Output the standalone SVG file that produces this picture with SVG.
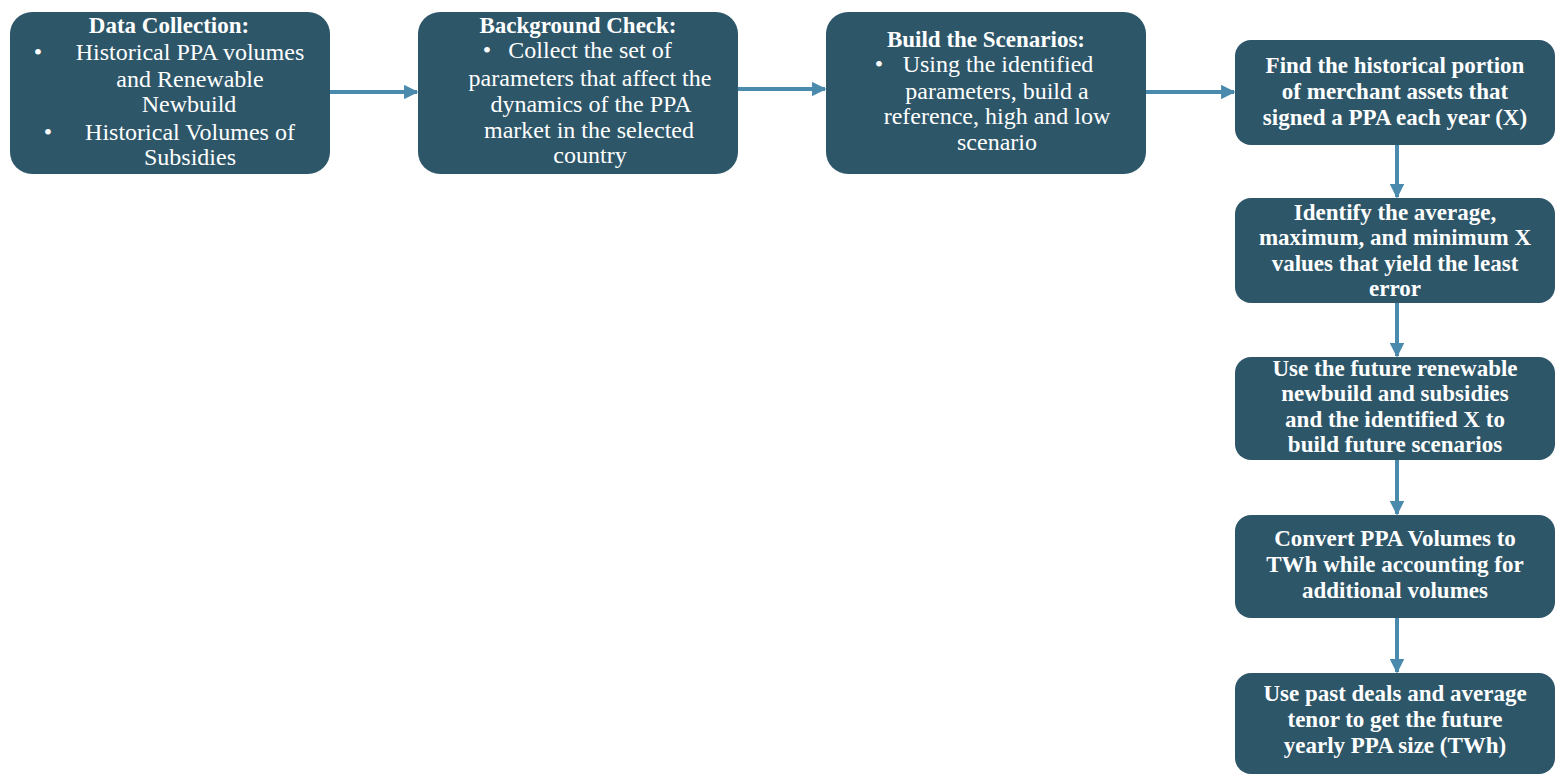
<svg xmlns="http://www.w3.org/2000/svg" width="1557" height="774" viewBox="0 0 1557 774">
<style>
.box{fill:#2d5669;}
.t{font-family:"Liberation Serif","DejaVu Serif",serif;fill:#ffffff;text-anchor:middle;font-size:24px;}
.b{font-weight:bold;font-size:23px;}
.r{font-family:"Liberation Serif","DejaVu Serif",serif;fill:#ffffff;text-anchor:middle;font-size:23px;font-weight:bold;}
.c{stroke:#4a8aac;stroke-width:4;fill:none;}
</style>
<defs>
<marker id="ah" viewBox="0 0 10 10" refX="9" refY="5" markerWidth="3.6" markerHeight="3.6" orient="auto" markerUnits="strokeWidth">
<path d="M0,0 L10,5 L0,10 Z" fill="#4a8aac"/>
</marker>
</defs>
<g id="connectors">
<line class="c" x1="330" y1="92" x2="417" y2="92" marker-end="url(#ah)"/>
<line class="c" x1="738" y1="89" x2="825" y2="89" marker-end="url(#ah)"/>
<line class="c" x1="1146" y1="92" x2="1234" y2="92" marker-end="url(#ah)"/>
<line class="c" x1="1397" y1="145" x2="1397" y2="197" marker-end="url(#ah)"/>
<line class="c" x1="1397" y1="303" x2="1397" y2="356" marker-end="url(#ah)"/>
<line class="c" x1="1397" y1="460" x2="1397" y2="514" marker-end="url(#ah)"/>
<line class="c" x1="1397" y1="618" x2="1397" y2="672" marker-end="url(#ah)"/>
</g>
<g id="n1">
<rect class="box" x="10" y="12" width="320" height="162" rx="22"/>
<text class="t b" x="169" y="33">Data Collection:</text>
<text class="t" x="38" y="60">•</text>
<text class="t" x="190" y="60">Historical PPA volumes</text>
<text class="t" x="190" y="87">and Renewable</text>
<text class="t" x="189" y="112">Newbuild</text>
<text class="t" x="48" y="140">•</text>
<text class="t" x="190" y="140">Historical Volumes of</text>
<text class="t" x="190" y="165">Subsidies</text>
</g>
<g id="n2">
<rect class="box" x="418" y="12" width="320" height="162" rx="22"/>
<text class="t b" x="578" y="33">Background Check:</text>
<text class="t" x="487" y="58">•</text>
<text class="t" x="590" y="58">Collect the set of</text>
<text class="t" x="590" y="86">parameters that affect the</text>
<text class="t" x="591" y="112">dynamics of the PPA</text>
<text class="t" x="589" y="138">market in the selected</text>
<text class="t" x="590" y="163">country</text>
</g>
<g id="n3">
<rect class="box" x="826" y="12" width="320" height="162" rx="22"/>
<text class="t b" x="986" y="47">Build the Scenarios:</text>
<text class="t" x="879" y="72">•</text>
<text class="t" x="998" y="72">Using the identified</text>
<text class="t" x="997" y="99">parameters, build a</text>
<text class="t" x="997" y="124">reference, high and low</text>
<text class="t" x="997" y="150">scenario</text>
</g>
<g id="n4">
<rect class="box" x="1235" y="40" width="320" height="105" rx="16"/>
<text class="r" x="1395" y="73">Find the historical portion</text>
<text class="r" x="1395" y="99">of merchant assets that</text>
<text class="r" x="1395" y="125">signed a PPA each year (X)</text>
</g>
<g id="n5">
<rect class="box" x="1235" y="198" width="320" height="105" rx="16"/>
<text class="r" x="1395" y="220">Identify the average,</text>
<text class="r" x="1395" y="245">maximum, and minimum X</text>
<text class="r" x="1395" y="271">values that yield the least</text>
<text class="r" x="1395" y="296">error</text>
</g>
<g id="n6">
<rect class="box" x="1235" y="357" width="320" height="103" rx="16"/>
<text class="r" x="1395" y="376">Use the future renewable</text>
<text class="r" x="1395" y="401">newbuild and subsidies</text>
<text class="r" x="1395" y="427">and the identified X to</text>
<text class="r" x="1395" y="452">build future scenarios</text>
</g>
<g id="n7">
<rect class="box" x="1235" y="515" width="320" height="103" rx="16"/>
<text class="r" x="1395" y="546">Convert PPA Volumes to</text>
<text class="r" x="1395" y="572">TWh while accounting for</text>
<text class="r" x="1395" y="598">additional volumes</text>
</g>
<g id="n8">
<rect class="box" x="1235" y="673" width="320" height="101" rx="16"/>
<text class="r" x="1395" y="701">Use past deals and average</text>
<text class="r" x="1395" y="727">tenor to get the future</text>
<text class="r" x="1395" y="753">yearly PPA size (TWh)</text>
</g>
</svg>
